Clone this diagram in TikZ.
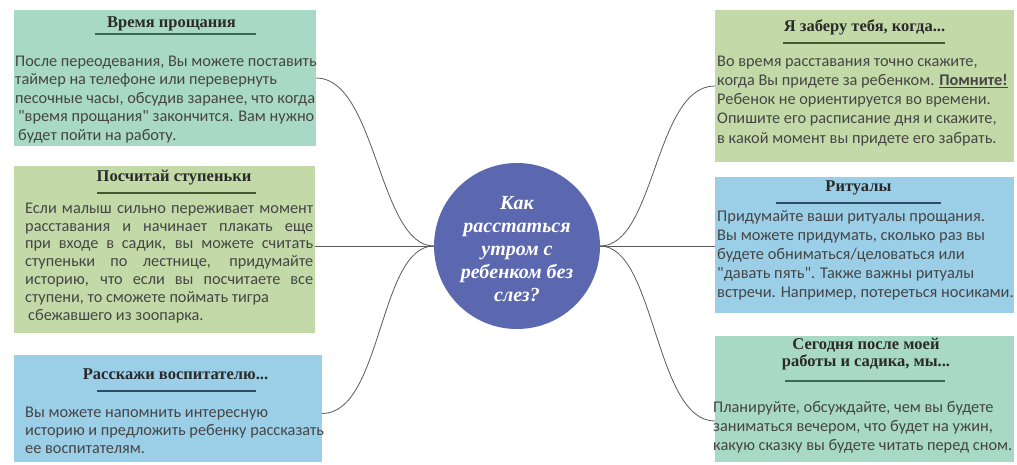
\documentclass[tikz,border=0pt]{standalone}
\usepackage{fontspec}
\setmainfont{Liberation Serif}
\newfontfamily\bodyfont{Carlito}
\definecolor{mint}{HTML}{A8D8C6}
\definecolor{olive}{HTML}{C3DAA8}
\definecolor{sky}{HTML}{9BCFE8}
\definecolor{circc}{HTML}{5B67AE}
\definecolor{bodyc}{HTML}{454545}
\definecolor{titlec}{HTML}{2A2A2A}
\definecolor{linkc}{HTML}{5A5A5A}
\definecolor{ulmint}{HTML}{3E6656}
\definecolor{ulolive}{HTML}{44582F}
\definecolor{ulsky}{HTML}{2F4C66}
\newcommand{\jl}[1]{\makebox[288pt][s]{#1}}
\begin{document}
\begin{tikzpicture}[x=1pt,y=-1pt,
  box/.style={rectangle, inner sep=0pt, draw=none},
  ttl/.style={font=\fontsize{16.5}{17.5}\selectfont\bfseries, text=titlec, inner sep=0pt, anchor=base, align=center},
  body/.style={font=\bodyfont\fontsize{16.3}{18.5}\selectfont, text=bodyc, inner sep=0pt, anchor=north west, align=left},
  uline/.style={line width=2.5pt},
  link/.style={draw=linkc, line width=0.8pt}]
\useasboundingbox (0,0) rectangle (1017,464);
% boxes
\node[box, fill=mint,  minimum width=302pt, minimum height=136pt] (b1) at (165,78) {};
\node[box, fill=olive, minimum width=301pt, minimum height=167pt] (b2) at (164.5,249.5) {};
\node[box, fill=sky,   minimum width=308pt, minimum height=107pt] (b3) at (168,408.5) {};
\node[box, fill=olive, minimum width=299pt, minimum height=152pt] (b4) at (864.5,86) {};
\node[box, fill=sky,   minimum width=299pt, minimum height=136pt] (b5) at (864.5,245) {};
\node[box, fill=mint,  minimum width=299pt, minimum height=126pt] (b6) at (864.5,399) {};
% centre
\node[circle, fill=circc, minimum size=166pt, inner sep=0pt] (c) at (517,246) {};
\node[text=white, inner sep=0pt, align=center,
  font=\fontsize{20}{23}\selectfont\bfseries\itshape] (ct) at ([yshift=-3pt]c.center)
  {Как\\расстаться\\утром с\\ребенком без\\слез?};
% connectors
\draw[link] (c.west) .. controls +(-55,0) and +(60,0) .. (b1.east);
\draw[link] (c.west) -- (c.west -| b2.east);
\draw[link] (c.west) .. controls +(-55,0) and +(60,0) .. ([yshift=-5pt]b3.east);
\draw[link] (c.east) .. controls +(55,0) and +(-60,0) .. (b4.west);
\draw[link] (c.east) -- (c.east -| b5.west);
\draw[link] (c.east) .. controls +(55,0) and +(-60,0) .. ([yshift=-22pt]b6.west);
% box 1
\node[ttl] (t1) at (171.5,27) {Время прощания};
\draw[uline, draw=ulmint] (95,34) -- (256,34);
\node[body] (p1) at (15,52) {\rule{0pt}{14pt}После переодевания, Вы можете поставить\\
таймер на телефоне или перевернуть\\
песочные часы, обсудив заранее, что когда\\
\hspace{3pt}"время прощания" закончится. Вам нужно\\
\hspace{3pt}будет пойти на работу.};
% box 2
\node[ttl] (t2) at (174,181) {Посчитай ступеньки};
\draw[uline, draw=ulolive] (97,193) -- (256,193);
\node[body, font=\bodyfont\fontsize{16.3}{17.8}\selectfont] (p2) at (25,199) {\rule{0pt}{14pt}\jl{Если малыш сильно переживает момент}\\
\jl{расставания и начинает плакать еще}\\
\jl{при входе в садик, вы можете считать}\\
\jl{ступеньки по лестнице, придумайте}\\
\jl{историю, что если вы посчитаете все}\\
ступени, то сможете поймать тигра\\
\hspace*{3pt}сбежавшего из зоопарка.};
% box 3
\node[ttl] (t3) at (175.5,379) {Расскажи воспитателю...};
\draw[uline, draw=ulsky] (97,391) -- (256,391);
\node[body, font=\bodyfont\fontsize{16.3}{18}\selectfont] (p3) at (25,403) {\rule{0pt}{14pt}Вы можете напомнить интересную\\
историю и предложить ребенку рассказать\\
ее воспитателям.};
% box 4
\node[ttl] (t4) at (864.5,31) {Я заберу тебя, когда...};
\draw[uline, draw=ulolive] (783,43) -- (945,43);
\node[body, font=\bodyfont\fontsize{16.3}{19.2}\selectfont] (p4) at (717,52) {\rule{0pt}{14pt}Во время расставания точно скажите,\\
когда Вы придете за ребенком. \underline{\textbf{Помните!}}\\
Ребенок не ориентируется во времени.\\
Опишите его расписание дня и скажите,\\
в какой момент вы придете его забрать.};
% box 5
\node[ttl] (t5) at (858.5,191) {Ритуалы};
\draw[uline, draw=ulsky] (776,203) -- (941,203);
\node[body, font=\bodyfont\fontsize{16.4}{19}\selectfont] (p5) at (717,207) {\rule{0pt}{14pt}Придумайте ваши ритуалы прощания.\\
Вы можете придумать, сколько раз вы\\
будете обниматься/целоваться или\\
"давать пять". Также важны ритуалы\\
встречи. Например, потереться носиками.};
% box 6
\node[ttl, anchor=north] (t6) at (866,337.5) {Сегодня после моей\\работы и садика, мы...};
\draw[uline, draw=ulmint] (785,381) -- (945,381);
\node[body, font=\bodyfont\fontsize{16.3}{19.3}\selectfont] (p6) at (713,398) {\rule{0pt}{14pt}Планируйте, обсуждайте, чем вы будете\\
заниматься вечером, что будет на ужин,\\
какую сказку вы будете читать перед сном.};
\end{tikzpicture}
\end{document}
